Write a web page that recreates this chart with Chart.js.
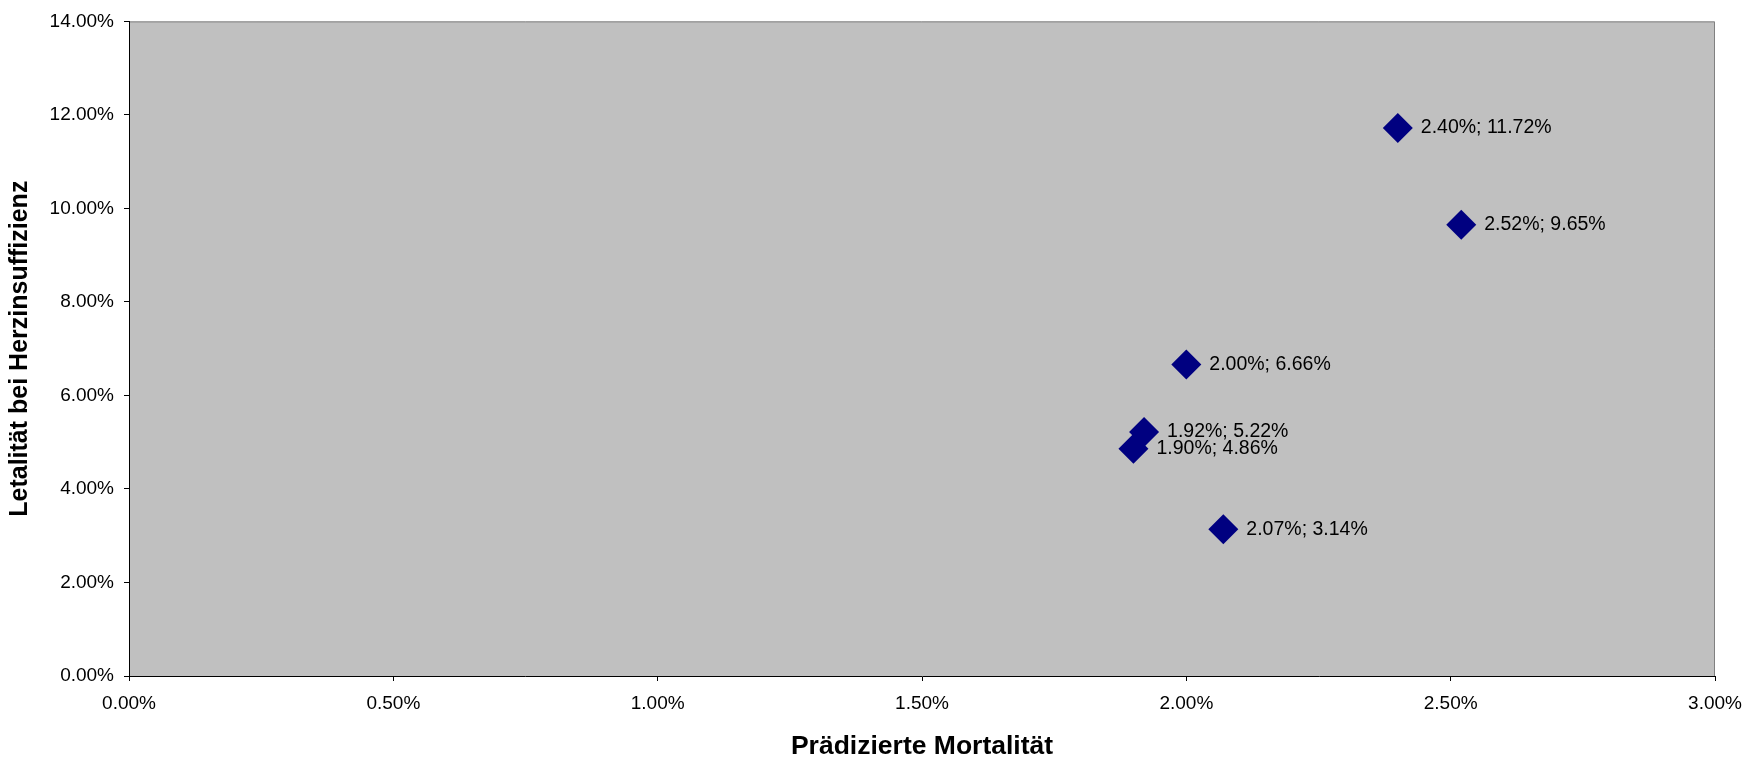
<!DOCTYPE html>
<html>
<head>
<meta charset="utf-8">
<script src="https://cdn.jsdelivr.net/npm/chart.js@4/dist/chart.umd.min.js"></script>
<style>
  html, body { margin: 0; padding: 0; background: #ffffff; }
  #wrap { width: 1761px; height: 760px; }
</style>
</head>
<body>
<div id="wrap"><canvas id="c" width="1761" height="760"></canvas></div>
<script>
// Predicted mortality vs. heart-failure lethality, in percent
const predictedMortality = [2.40, 2.52, 2.00, 1.92, 1.90, 2.07];
const heartFailureLethality = [11.72, 9.65, 6.66, 5.22, 4.86, 3.14];

const xTickRange = { min: 0, max: 3, step: 0.5 };
const yTickRange = { min: 0, max: 14, step: 2 };

const xTitle = 'Prädizierte Mortalität';
const yTitle = 'Letalität bei Herzinsuffizienz';

const FONT = '"Liberation Sans", Arial, Helvetica, sans-serif';
const pct = v => Number(v).toFixed(2) + '%';

const points = predictedMortality.map((x, i) => ({ x, y: heartFailureLethality[i] }));

// Grey plot area with a grey frame on top and right
const plotBackground = {
  id: 'plotBackground',
  beforeDraw(chart) {
    const { ctx, chartArea: a } = chart;
    ctx.save();
    ctx.fillStyle = '#c0c0c0';
    ctx.fillRect(a.left, a.top, a.right - a.left, a.bottom - a.top);
    ctx.strokeStyle = '#808080';
    ctx.lineWidth = 1;
    ctx.beginPath();
    ctx.moveTo(a.left, a.top + 0.5);
    ctx.lineTo(a.right - 0.5, a.top + 0.5);
    ctx.lineTo(a.right - 0.5, a.bottom);
    ctx.stroke();
    ctx.restore();
  }
};

// "x; y" label to the right of each marker
const pointLabels = {
  id: 'pointLabels',
  afterDatasetsDraw(chart) {
    const { ctx } = chart;
    const meta = chart.getDatasetMeta(0);
    ctx.save();
    ctx.font = '19.5px ' + FONT;
    ctx.fillStyle = '#000000';
    ctx.textAlign = 'left';
    ctx.textBaseline = 'middle';
    meta.data.forEach((el, i) => {
      const d = chart.data.datasets[0].data[i];
      ctx.fillText(pct(d.x) + '; ' + pct(d.y), el.x + 23, el.y);
    });
    ctx.restore();
  }
};

new Chart(document.getElementById('c'), {
  type: 'scatter',
  data: {
    datasets: [{
      data: points,
      pointStyle: 'rectRot',
      pointRadius: 15,
      pointHoverRadius: 15,
      pointBorderWidth: 0,
      backgroundColor: '#000080',
      borderColor: '#000080'
    }]
  },
  options: {
    responsive: false,
    animation: false,
    layout: { padding: { top: 18, right: 46, left: 0, bottom: 0 } },
    plugins: {
      legend: { display: false },
      tooltip: { enabled: false }
    },
    scales: {
      x: {
        type: 'linear',
        min: xTickRange.min,
        max: xTickRange.max,
        afterFit(scale) { scale.height = 84; },
        ticks: {
          stepSize: xTickRange.step,
          callback: v => pct(v),
          color: '#000000',
          font: { family: FONT, size: 19 },
          padding: 11,
          maxRotation: 0
        },
        grid: { drawOnChartArea: false, drawTicks: true, tickLength: 5, color: '#000000' },
        border: { display: true, color: '#000000', width: 1 },
        title: {
          display: true,
          text: xTitle,
          color: '#000000',
          font: { family: FONT, size: 26.5, weight: 'bold', lineHeight: 1 },
          padding: { top: 0, bottom: 0 }
        }
      },
      y: {
        type: 'linear',
        min: yTickRange.min,
        max: yTickRange.max,
        afterFit(scale) { scale.width = 129; },
        ticks: {
          stepSize: yTickRange.step,
          callback: v => pct(v),
          color: '#000000',
          font: { family: FONT, size: 19 },
          padding: 10
        },
        grid: { drawOnChartArea: false, drawTicks: true, tickLength: 5, color: '#000000' },
        border: { display: true, color: '#000000', width: 1 },
        title: {
          display: true,
          text: yTitle,
          color: '#000000',
          font: { family: FONT, size: 25, weight: 'bold', lineHeight: 1 },
          padding: { top: 8, bottom: 0 }
        }
      }
    }
  },
  plugins: [plotBackground, pointLabels]
});
</script>
</body>
</html>
